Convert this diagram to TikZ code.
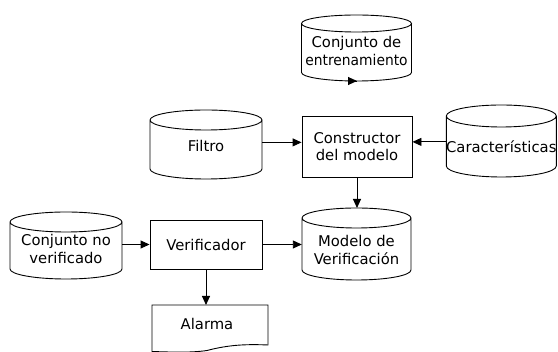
\documentclass[tikz,border=0pt]{standalone}
\usepackage{graphicx}
\usepackage{fontspec}
\setmainfont{DejaVu Sans}
\usetikzlibrary{arrows.meta}

\tikzset{
  outline/.style={draw=black, line width=0.9pt},
  label/.style={inner sep=0pt, align=center, font=\fontsize{14.8}{18.4}\selectfont},
  drumtext/.style={label},
  box/.style={label, outline},
  arrow/.style={outline, -{Triangle[length=9pt,width=8pt]}},
}

% cylinder: name, x centre, text y, half width, top, bottom, cap radius, text
\newcommand\drum[8]{%
  \node[drumtext, minimum width={2*#4}] (#1) at (#2,#3) {#8};
  \draw[outline] ({#2-#4},{#5+#7}) arc[start angle=180, end angle=540, x radius=#4pt, y radius=#7pt]
     -- ({#2-#4},{#6-#7}) arc[start angle=180, end angle=360, x radius=#4pt, y radius=#7pt]
     -- ({#2+#4},{#5+#7});
  \coordinate (#1-top) at (#2,#5);
  \coordinate (#1-bot) at (#2,#6);
}

\begin{document}
\begin{tikzpicture}[x=1pt, y=-1pt]
  \useasboundingbox (0,0) rectangle (558,352);

  % data stores
  \drum{trn}{356.5}{50.9}{55}{15}{81}{8.5}{Conjunto de\\\scalebox{0.935}[1]{entrenamiento}}
  \drum{fil}{206}{146.4}{56}{110}{179}{10}{Filtro}
  \drum{car}{501.3}{146.4}{55}{105}{177}{11}{Características}
  \drum{mod}{356.5}{250.1}{54.5}{208}{280}{10}{Modelo de\\Verificación}
  \drum{cnv}{66}{248.9}{56}{212}{279}{10}{Conjunto no\\verificado}

  % processes
  \node[box, minimum width=110, minimum height=61,
        font=\fontsize{14.8}{16.7}\selectfont] (cons) at (357,146.5) {Constructor\\del modelo};
  \node[box, minimum width=112, minimum height=49] (ver) at (206,244.5) {Verificador};

  % output document
  \node[label] (alarma) at (207,324.1) {Alarma};
  \coordinate (alarma-top) at (207,305);
  \draw[outline] (152,305) -- (268,305) -- (268,345)
     .. controls (245,344) and (228,345) .. (207,350.5)
     .. controls (190,353) and (170,352) .. (152,351.5) -- cycle;

  % connectors
  \draw[arrow] (trn-bot) -- (trn-bot -| cons.north);
  \draw[arrow] ([yshift=4pt]fil.east) -- ([yshift=4pt]fil.east -| cons.west);
  \draw[arrow] ([yshift=4.5pt]car.west) -- ([yshift=4.5pt]car.west -| cons.east);
  \draw[arrow] (cons.south) -- (cons.south |- mod-top);
  \draw[arrow] (cnv.east |- ver.west) -- (ver.west);
  \draw[arrow] (ver.east) -- (ver.east -| mod.west);
  \draw[arrow] (ver.south) -- (ver.south |- alarma-top);
\end{tikzpicture}
\end{document}
